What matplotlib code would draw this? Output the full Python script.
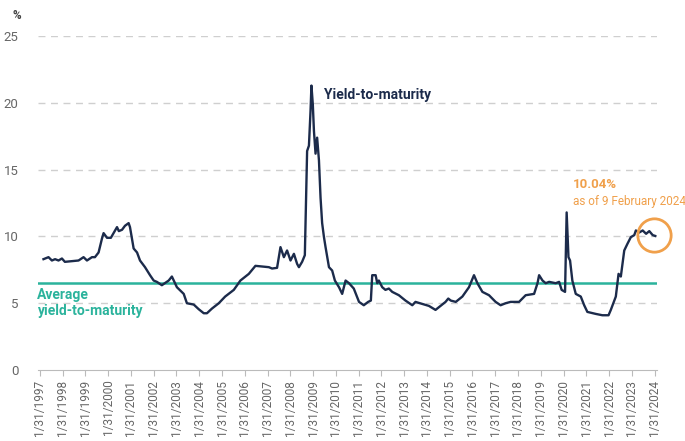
import matplotlib
matplotlib.use('Agg')
import matplotlib.pyplot as plt

# Yield-to-maturity history (decimal year, %)
years = [
    1997.24, 1997.46, 1997.61, 1997.75, 1997.90, 1998.05, 1998.18, 1998.50, 1998.78,
    1999.00, 1999.15, 1999.37, 1999.50, 1999.66, 1999.81, 1999.88, 2000.03, 2000.20,
    2000.32, 2000.47, 2000.55, 2000.69, 2000.82, 2000.98, 2001.04, 2001.20, 2001.35,
    2001.48, 2001.70, 2001.92, 2002.08, 2002.22, 2002.44, 2002.74, 2002.88, 2003.10,
    2003.40, 2003.54, 2003.84, 2004.06, 2004.28, 2004.42, 2004.64, 2004.94, 2005.22,
    2005.60, 2005.89, 2006.26, 2006.55, 2006.84, 2007.14, 2007.28, 2007.50, 2007.65,
    2007.80, 2007.94, 2008.09, 2008.24, 2008.38, 2008.46, 2008.60, 2008.72, 2008.82,
    2008.90, 2008.97, 2009.01, 2009.07, 2009.12, 2009.19, 2009.26, 2009.34, 2009.41,
    2009.48, 2009.56, 2009.63, 2009.78, 2009.92, 2010.04, 2010.22, 2010.36, 2010.51,
    2010.66, 2010.87, 2011.10, 2011.31, 2011.50, 2011.62, 2011.68, 2011.83, 2011.90,
    2011.97, 2012.12, 2012.26, 2012.41, 2012.56, 2012.85, 2013.14, 2013.44, 2013.58,
    2013.88, 2014.17, 2014.46, 2014.68, 2014.90, 2015.02, 2015.13, 2015.35, 2015.64,
    2015.93, 2016.15, 2016.30, 2016.52, 2016.81, 2017.10, 2017.32, 2017.54, 2017.76,
    2018.13, 2018.42, 2018.79, 2018.94, 2019.01, 2019.16, 2019.30, 2019.45, 2019.74,
    2019.89, 2020.00, 2020.15, 2020.22, 2020.30, 2020.37, 2020.47, 2020.62, 2020.84,
    2020.99, 2021.13, 2021.50, 2021.79, 2022.06, 2022.16, 2022.38, 2022.50, 2022.60,
    2022.75, 2022.89, 2023.04, 2023.19, 2023.26, 2023.41, 2023.56, 2023.71, 2023.85,
    2024.00, 2024.11,
]
ytm = [
    8.3, 8.45, 8.2, 8.3, 8.2, 8.35, 8.1, 8.15, 8.2,
    8.45, 8.2, 8.45, 8.45, 8.8, 9.85, 10.25, 9.9, 9.9,
    10.25, 10.7, 10.4, 10.5, 10.8, 11.0, 10.7, 9.1, 8.8,
    8.2, 7.7, 7.1, 6.7, 6.6, 6.35, 6.7, 7.0, 6.2,
    5.7, 5.0, 4.9, 4.55, 4.25, 4.25, 4.6, 5.0, 5.5,
    6.0, 6.7, 7.2, 7.8, 7.75, 7.7, 7.6, 7.65, 9.2,
    8.45, 8.95, 8.2, 8.7, 7.95, 7.7, 8.1, 8.6, 16.4,
    16.8, 19.4, 21.3, 19.9, 17.9, 16.2, 17.4, 15.7, 12.9,
    11.0, 9.95, 9.2, 7.7, 7.45, 6.7, 6.2, 5.7, 6.7,
    6.5, 6.1, 5.1, 4.85, 5.1, 5.2, 7.1, 7.1, 6.5,
    6.7, 6.2, 6.0, 6.1, 5.85, 5.6, 5.2, 4.85, 5.1,
    4.95, 4.8, 4.5, 4.8, 5.1, 5.35, 5.2, 5.1, 5.5,
    6.2, 7.1, 6.5, 5.85, 5.6, 5.1, 4.85, 5.0, 5.1,
    5.1, 5.6, 5.7, 6.5, 7.1, 6.7, 6.5, 6.6, 6.5,
    6.6, 6.0, 5.85, 11.8, 8.45, 8.2, 6.7, 5.7, 5.5,
    4.85, 4.35, 4.2, 4.1, 4.1, 4.5, 5.5, 7.2, 7.0,
    8.95, 9.45, 9.95, 10.1, 10.45, 10.3, 10.45, 10.2, 10.4,
    10.1, 10.04,
]
AVG_YTM = 6.5

tick_years = list(range(1997, 2025))
tick_labels = [f'1/31/{y}' for y in tick_years]
y_ticks = [0, 5, 10, 15, 20, 25]

NAVY = '#1c2b4b'
TEAL = '#2bb39c'
ORANGE = '#f0a04b'
GREY = '#666666'

plt.rcParams['font.family'] = ['Roboto', 'DejaVu Sans']

fig = plt.figure(figsize=(6.85, 4.41), dpi=100)
ax = fig.add_axes([0.0555, 0.161, 0.904, 0.757])

for v in y_ticks[1:]:
    ax.axhline(v, color='#cfcfcf', linewidth=1, linestyle=(0, (5, 4)), zorder=1)

ax.axhline(AVG_YTM, color=TEAL, linewidth=1.8, zorder=2)
ax.plot(years, ytm, color=NAVY, linewidth=1.7, zorder=3)

# highlight the latest reading
ax.plot(years[-1] - 0.05, ytm[-1] + 0.1, 'o', ms=24, mfc='none', mec=ORANGE, mew=2,
        clip_on=False, zorder=4)

ax.text(2009.55, 20.6, 'Yield-to-maturity', color=NAVY, fontsize=10,
        fontweight='bold', ha='left', va='center')
ax.text(1996.95, 6.15, 'Average\nyield-to-maturity', color=TEAL, fontsize=10,
        fontweight='bold', ha='left', va='top', linespacing=1.15)
ax.text(2020.5, 13.9, f'{ytm[-1]:.2f}%', color=ORANGE, fontsize=9.5,
        fontweight='bold', ha='left', va='center')
ax.text(2020.5, 12.6, 'as of 9 February 2024', color=ORANGE, fontsize=8.5,
        ha='left', va='center')

ax.set_xlim(1997.0, 2024.2)
ax.set_ylim(0, 25)
ax.set_xticks([y + 30 / 365 for y in tick_years])
ax.set_xticklabels(tick_labels, rotation=90, fontsize=8.5, color=GREY)
ax.set_yticks(y_ticks)
ax.set_yticklabels([str(v) for v in y_ticks], fontsize=9.5, color=GREY)
ax.tick_params(axis='y', length=0, pad=14)
ax.tick_params(axis='x', length=4, color='#bbbbbb', pad=3)

for side in ['top', 'right', 'left']:
    ax.spines[side].set_visible(False)
ax.spines['bottom'].set_color('#bbbbbb')

fig.text(0.018, 0.965, '%', fontsize=8.5, fontweight='bold', color='#444444',
         ha='left', va='center')

fig.savefig('out.png', dpi=100)
